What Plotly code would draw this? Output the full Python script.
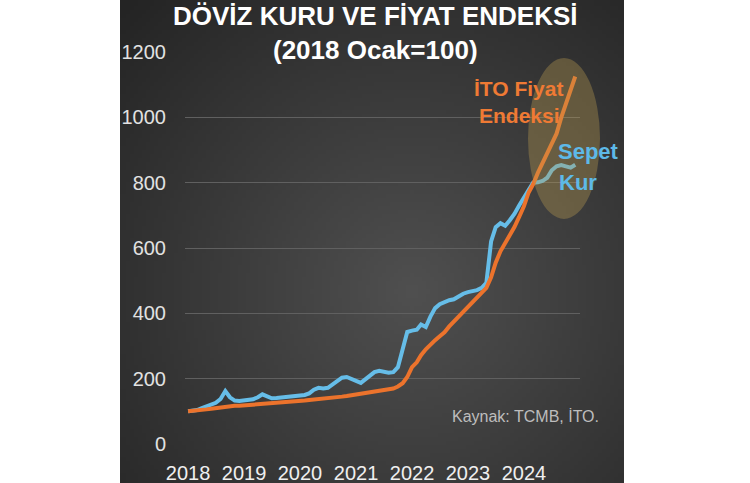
import zlib, struct, base64, math
import pandas as pd
import plotly.graph_objects as go

# ---- data (monthly, Jan 2018 = 100) ----
months = pd.date_range("2018-01-01", periods=84, freq="MS")
ito_fiyat = [
    100, 101, 102, 104, 106, 108, 110, 112, 115, 117, 117, 117,
    118, 119, 120, 122, 123, 124, 125, 126, 127, 128, 129, 130,
    132, 133, 135, 136, 137, 138, 140, 142, 143, 145, 147, 149,
    152, 154, 156, 158, 160, 162, 164, 166, 170, 176, 186, 205,
    235, 250, 272, 290, 305, 318, 330, 342, 360, 375, 388, 405,
    420, 435, 450, 465, 478, 510, 555, 590, 615, 638, 665, 695,
    728, 770, 795, 830, 860, 890, 920, 950, 1000, 1040, 1080, 1125,
]
sepet_kur = [
    100, 101, 104, 110, 115, 122, 126, 138, 162, 143, 133, 132,
    134, 133, 137, 143, 152, 146, 140, 141, 142, 145, 144, 145,
    148, 150, 155, 166, 172, 170, 172, 182, 190, 203, 205, 198,
    193, 187, 198, 212, 220, 224, 222, 218, 220, 235, 290, 343,
    347, 350, 366, 358, 390, 416, 428, 435, 440, 443, 452, 460,
    465, 467, 471, 478, 493, 620, 664, 676, 668, 685, 705, 730,
    755, 778, 800, 801, 805, 815, 838, 850, 854, 850, 846, 855,
]
year_ticks = [f"{y}-01-01" for y in range(2018, 2025)]
year_labels = [str(y) for y in range(2018, 2025)]

# ---- geometry helpers (pixel -> paper) ----
L, R, T, B = 185, 580, 52, 444
def px(x): return (x - L) / (R - L)
def py(y): return (B - y) / (B - T)

# ---- background gradient image ----
def make_png(w, h, fn):
    rows = []
    for j in range(h):
        row = bytearray([0])
        for i in range(w):
            row += bytes(fn(i, j))
        rows.append(bytes(row))
    raw = b"".join(rows)
    def chunk(t, d):
        return struct.pack(">I", len(d)) + t + d + struct.pack(">I", zlib.crc32(t + d) & 0xffffffff)
    return (b"\x89PNG\r\n\x1a\n" + chunk(b"IHDR", struct.pack(">IIBBBBB", w, h, 8, 2, 0, 0, 0))
            + chunk(b"IDAT", zlib.compress(raw, 9)) + chunk(b"IEND", b""))

PW, PH, S = 504, 483, 4
def grad(i, j):
    X = 120 + i * S; Y = j * S
    d = math.hypot((X - 410) / 260, (Y - 290) / 260)
    v = int(max(36, 80 - 28 * d))
    return (v, v, v)
png = make_png(PW // S, PH // S + 1, grad)
bg_src = "data:image/png;base64," + base64.b64encode(png).decode()

fig = go.Figure()
fig.add_trace(go.Scatter(x=months, y=sepet_kur, mode="lines",
                         line=dict(color="#66bde8", width=4), name="Sepet Kur"))
fig.add_trace(go.Scatter(x=months, y=ito_fiyat, mode="lines",
                         line=dict(color="#ec732c", width=4), name="İTO Fiyat Endeksi"))

fig.add_layout_image(dict(source=bg_src, xref="paper", yref="paper",
                          x=px(120), y=py(0), sizex=px(624) - px(120), sizey=py(0) - py(483),
                          xanchor="left", yanchor="top", sizing="stretch", layer="below"))

FONT = "Liberation Sans"
ann = [
    dict(text="<b>DÖVİZ KURU VE FİYAT ENDEKSİ</b>", x=px(375), y=py(16), font=dict(size=26, color="#ffffff")),
    dict(text="<b>(2018 Ocak=100)</b>", x=px(375), y=py(50), font=dict(size=26, color="#ffffff")),
    dict(text="<b>İTO Fiyat</b>", x=px(518), y=py(88), font=dict(size=21, color="#ef7a34")),
    dict(text="<b>Endeksi</b>", x=px(519), y=py(116), font=dict(size=21, color="#ef7a34")),
    dict(text="<b>Sepet</b>", x=px(556), y=py(151), xanchor="left", font=dict(size=22, color="#5db9e8")),
    dict(text="<b>Kur</b>", x=px(557), y=py(182), xanchor="left", font=dict(size=22, color="#5db9e8")),
    dict(text="Kaynak: TCMB, İTO.", x=px(450), y=py(416), xanchor="left", font=dict(size=16, color="#bdbdbd")),
]
for a in ann:
    a.setdefault("xanchor", "center")
    fig.add_annotation(xref="paper", yref="paper", showarrow=False, yanchor="middle",
                       **{k: v for k, v in a.items()})

fig.add_shape(type="circle", xref="paper", yref="paper",
              x0=px(528), x1=px(600), y0=py(219), y1=py(58),
              fillcolor="rgba(185,155,80,0.36)", line=dict(width=0), layer="above")

fig.update_layout(
    width=750, height=483,
    margin=dict(l=L, r=750 - R, t=T, b=483 - B),
    paper_bgcolor="#ffffff", plot_bgcolor="rgba(0,0,0,0)",
    showlegend=False,
    font=dict(family=FONT, color="#e6e6e6"),
)
fig.update_xaxes(type="date", range=["2017-12-12", "2025-01-01"],
                 tickmode="array", tickvals=year_ticks, ticktext=year_labels,
                 showgrid=False, zeroline=False, showline=False, ticks="", automargin=False,
                 tickfont=dict(size=20, color="#efefef", family=FONT), ticklabelstandoff=15)
fig.update_yaxes(range=[0, 1200], dtick=200, tick0=0, automargin=False,
                 showgrid=True, gridcolor="#606060", gridwidth=1,
                 zeroline=False, showline=False, ticks="",
                 tickfont=dict(size=20, color="#e2e2e2", family=FONT), ticklabelstandoff=18)

fig.write_html("out.html")
